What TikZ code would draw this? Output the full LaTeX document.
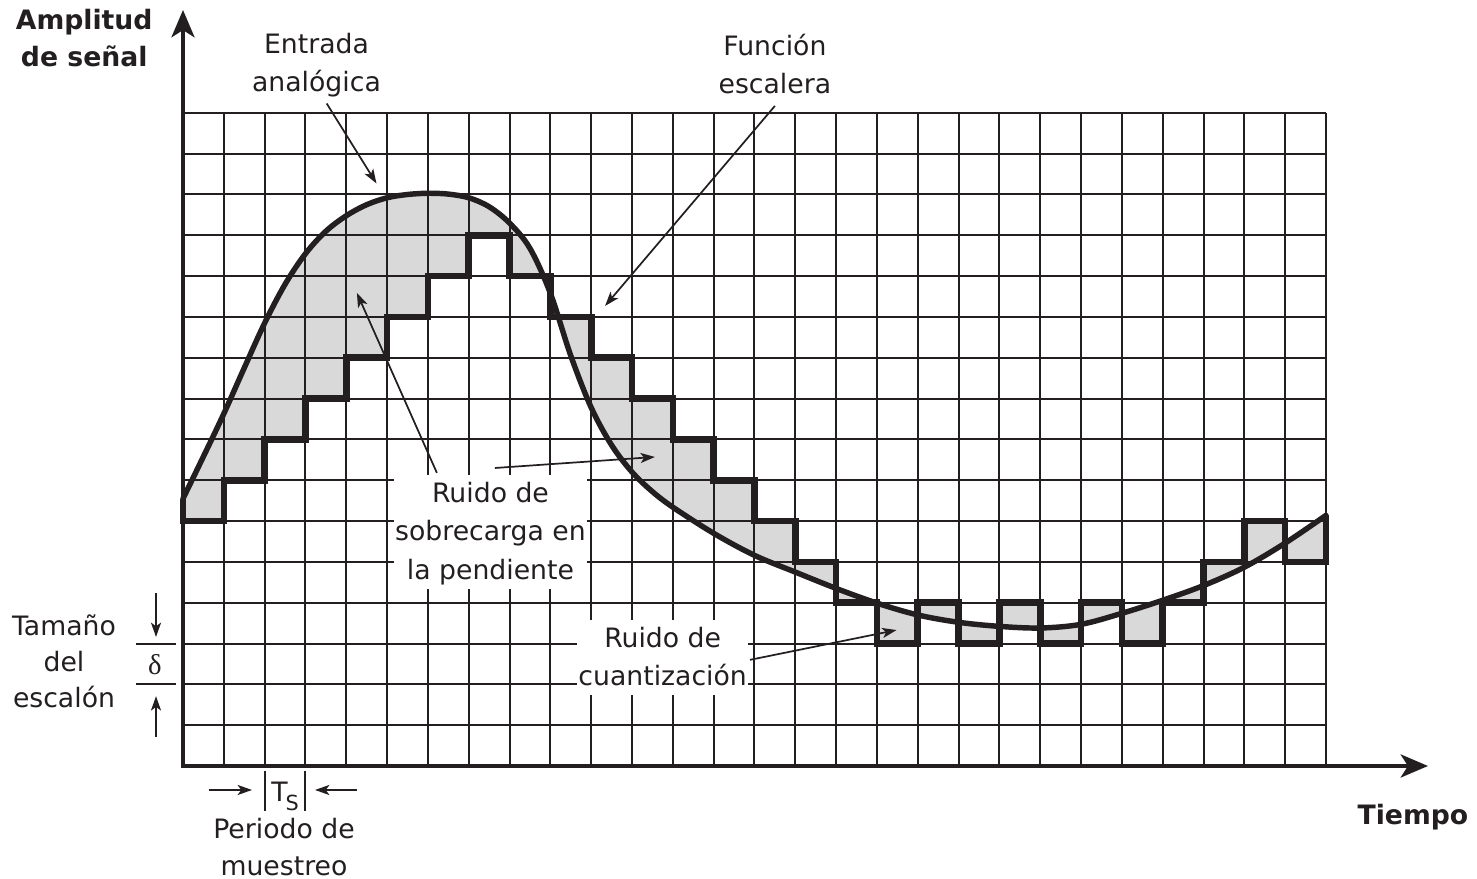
\documentclass[tikz,border=0pt]{standalone}
\usepackage{fontspec}
\setmainfont{DejaVu Sans}
\newfontfamily\greekserif{Liberation Serif}
\usetikzlibrary{arrows.meta}
\definecolor{ink}{RGB}{35,31,32}
\definecolor{noise}{RGB}{217,217,217}
\newcommand{\tstr}{\rule{0pt}{0.85em}}
\newcommand{\bstr}{\rule[-0.2em]{0pt}{0pt}}
\begin{document}
\begin{tikzpicture}[x=1cm,y=1cm,
  gridline/.style={ink, line width=1.4pt},
  stairline/.style={ink, line width=4.6pt, line join=miter},
  curveline/.style={ink, line width=3.8pt, line cap=round},
  axisline/.style={ink, line width=2.9pt, {Stealth[length=19pt,width=16pt,inset=5pt]}-{Stealth[length=19pt,width=16pt,inset=5pt]}},
  callout/.style={ink, line width=1.2pt, -{Stealth[length=10pt,width=7pt,inset=2.5pt]}},
  lbl/.style={text=ink, font=\fontsize{18.6}{26.8}\selectfont, align=center, inner sep=0pt, anchor=north},
  boxlbl/.style={lbl, fill=white, inner xsep=1pt, inner ysep=3pt},
]
\useasboundingbox (-4.483,-2.768) rectangle (31.70,18.765);

% noise regions between curve and staircase
\fill[noise, even odd rule]
  plot[smooth, tension=0.55] coordinates {(0,6.55) (0.5,7.58) (1,8.63) (1.5,9.75) (2,10.85) (2.5,11.8) (3,12.55) (3.5,13.1) (4,13.48) (4.5,13.75) (5,13.92) (5.5,14.0) (6,14.03) (6.5,14.01) (7,13.92) (7.5,13.7) (8,13.3) (8.5,12.68) (9,11.58) (9.5,10.05) (10,8.78) (10.5,7.86) (11,7.2) (11.5,6.72) (12,6.34) (13,5.7) (14,5.16) (15,4.75) (16,4.35) (17,3.99) (18,3.7) (19,3.52) (20,3.42) (21,3.38) (22,3.47) (23,3.74) (24,4.06) (25,4.42) (26,4.87) (27,5.46) (28,6.14)}
  -- (28,0) -- (0,0) -- cycle
  (0,6.55) -- (0,6) -- (1,6) -- (1,7) -- (2,7) -- (2,8) -- (3,8) -- (3,9) -- (4,9) -- (4,10) -- (5,10) -- (5,11) -- (6,11) -- (6,12) -- (7,12) -- (7,13) -- (8,13) -- (8,12) -- (9,12) -- (9,11) -- (10,11) -- (10,10) -- (11,10) -- (11,9) -- (12,9) -- (12,8) -- (13,8) -- (13,7) -- (14,7) -- (14,6) -- (15,6) -- (15,5) -- (16,5) -- (16,4) -- (17,4) -- (17,3) -- (18,3) -- (18,4) -- (19,4) -- (19,3) -- (20,3) -- (20,4) -- (21,4) -- (21,3) -- (22,3) -- (22,4) -- (23,4) -- (23,3) -- (24,3) -- (24,4) -- (25,4) -- (25,5) -- (26,5) -- (26,6) -- (27,6) -- (27,5) -- (28,5) -- (28,6.14)
  -- (28,0) -- (0,0) -- cycle;

% grid
\draw[gridline] (0,0) grid (28,16);

% staircase
\draw[stairline] (0,6.55) -- (0,6) -- (1,6) -- (1,7) -- (2,7) -- (2,8) -- (3,8) -- (3,9) -- (4,9) -- (4,10) -- (5,10) -- (5,11) -- (6,11) -- (6,12) -- (7,12) -- (7,13) -- (8,13) -- (8,12) -- (9,12) -- (9,11) -- (10,11) -- (10,10) -- (11,10) -- (11,9) -- (12,9) -- (12,8) -- (13,8) -- (13,7) -- (14,7) -- (14,6) -- (15,6) -- (15,5) -- (16,5) -- (16,4) -- (17,4) -- (17,3) -- (18,3) -- (18,4) -- (19,4) -- (19,3) -- (20,3) -- (20,4) -- (21,4) -- (21,3) -- (22,3) -- (22,4) -- (23,4) -- (23,3) -- (24,3) -- (24,4) -- (25,4) -- (25,5) -- (26,5) -- (26,6) -- (27,6) -- (27,5) -- (28,5) -- (28,6.14);

% analog input
\draw[curveline] plot[smooth, tension=0.55] coordinates {(0,6.55) (0.5,7.58) (1,8.63) (1.5,9.75) (2,10.85) (2.5,11.8) (3,12.55) (3.5,13.1) (4,13.48) (4.5,13.75) (5,13.92) (5.5,14.0) (6,14.03) (6.5,14.01) (7,13.92) (7.5,13.7) (8,13.3) (8.5,12.68) (9,11.58) (9.5,10.05) (10,8.78) (10.5,7.86) (11,7.2) (11.5,6.72) (12,6.34) (13,5.7) (14,5.16) (15,4.75) (16,4.35) (17,3.99) (18,3.7) (19,3.52) (20,3.42) (21,3.38) (22,3.47) (23,3.74) (24,4.06) (25,4.42) (26,4.87) (27,5.46) (28,6.14)};

% axes
\coordinate (O) at (0,0);
\coordinate (ytip) at (0,18.52);
\coordinate (xtip) at (30.5,0);
\draw[axisline] (ytip) -- (O) -- (xtip);

% labels
\node[lbl, font=\fontsize{18.6}{26}\selectfont\bfseries] (amp) at (-2.42,18.61) {\tstr Amplitud\\de señal};
\node[lbl] (ent) at (3.27,18.02) {\tstr Entrada\\analógica};
\node[lbl] (fun) at (14.50,17.97) {\tstr Función\\escalera};
\node[boxlbl] (sob) at (7.533,7.129) {\tstr Ruido de\\sobrecarga en\\la pendiente\bstr};
\node[boxlbl] (cua) at (11.75,3.577) {\tstr Ruido de\\cuantización\bstr};
\node[lbl, font=\fontsize{18.6}{25.1}\selectfont] (tam) at (-2.915,3.765) {\tstr Tamaño\\del\\escalón};
\node[lbl, font=\fontsize{18.6}{25.8}\selectfont] (per) at (2.474,-1.208) {\tstr Periodo de\\muestreo};
\node[lbl, anchor=base, font=\fontsize{18.6}{26}\selectfont\bfseries] (tie) at (30.13,-1.445) {Tiempo};
\node[lbl, anchor=base] (ts) at (2.50,-0.882) {T\kern-1.5pt\raisebox{-5.8pt}{\fontsize{14.5}{14.5}\selectfont S}};
\node[lbl, anchor=base, font=\fontsize{20}{20}\selectfont\greekserif] (del) at (-0.686,2.23) {δ};

% callout arrows
\coordinate (entA) at (3.52,16.23);  \coordinate (entB) at (4.74,14.27);
\coordinate (funA) at (14.50,16.17); \coordinate (funB) at (10.34,11.27);
\coordinate (sobA) at (6.22,7.18);   \coordinate (sobB) at (4.26,11.59);
\coordinate (sobC) at (7.64,7.30);   \coordinate (sobD) at (11.56,7.57);
\coordinate (cuaA) at (13.89,2.60);  \coordinate (cuaB) at (17.48,3.33);
\draw[callout] (entA) -- (entB);
\draw[callout] (funA) -- (funB);
\draw[callout] (sobA) -- (sobB);
\draw[callout] (sobC) -- (sobD);
\draw[callout] (cuaA) -- (cuaB);

% sampling period marks
\coordinate (tsL1) at (2,-0.122);  \coordinate (tsL2) at (2,-1.10);
\coordinate (tsR1) at (3,-0.122);  \coordinate (tsR2) at (3,-1.10);
\draw[gridline] (tsL1) -- (tsL2);
\draw[gridline] (tsR1) -- (tsR2);
\coordinate (tsAa) at (0.637,-0.588); \coordinate (tsAb) at (1.69,-0.588);
\coordinate (tsBa) at (4.263,-0.588); \coordinate (tsBb) at (3.234,-0.588);
\draw[callout] (tsAa) -- (tsAb);
\draw[callout] (tsBa) -- (tsBb);

% step size marks
\coordinate (dU1) at (-1.151,3); \coordinate (dU2) at (-0.171,3);
\coordinate (dL1) at (-1.151,2); \coordinate (dL2) at (-0.171,2);
\draw[gridline] (dU1) -- (dU2);
\draw[gridline] (dL1) -- (dL2);
\coordinate (dAa) at (-0.661,4.24); \coordinate (dAb) at (-0.661,3.16);
\coordinate (dBa) at (-0.661,0.71); \coordinate (dBb) at (-0.661,1.71);
\draw[callout] (dAa) -- (dAb);
\draw[callout] (dBa) -- (dBb);
\end{tikzpicture}
\end{document}
